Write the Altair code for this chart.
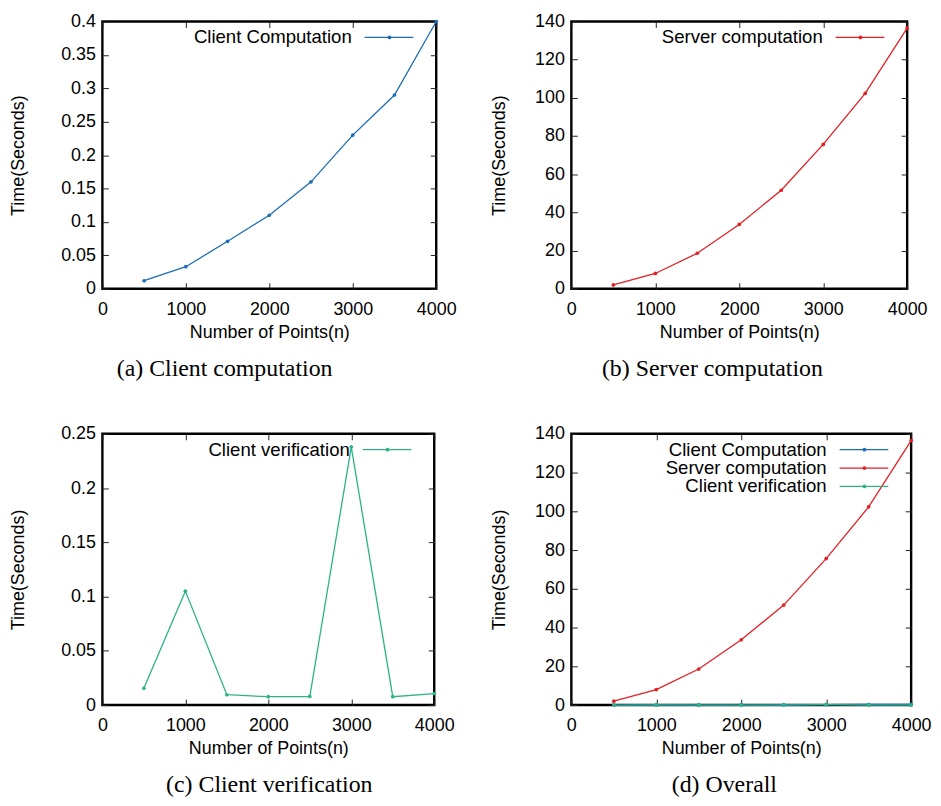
import altair as alt
import pandas as pd

# ---- data ----
n_points = [500, 1000, 1500, 2000, 2500, 3000, 3500, 4000]
client_computation = [0.012, 0.033, 0.071, 0.110, 0.160, 0.230, 0.290, 0.400]
server_computation = [2.0, 8.0, 18.6, 33.7, 51.6, 75.6, 102.3, 136.5]
client_verification = [0.0155, 0.105, 0.0095, 0.0077, 0.0079, 0.238, 0.0077, 0.0106]

x_ticks = [0, 1000, 2000, 3000, 4000]
y_ticks_a = [0, 0.05, 0.1, 0.15, 0.2, 0.25, 0.3, 0.35, 0.4]
y_ticks_b = [0, 20, 40, 60, 80, 100, 120, 140]
y_ticks_c = [0, 0.05, 0.1, 0.15, 0.2, 0.25]

series_names = ["Client Computation", "Server computation", "Client verification"]
series_colors = ["#1c6db5", "#e41f26", "#2db388"]
captions = ["(a) Client computation", "(b) Server computation",
            "(c) Client verification", "(d) Overall"]

SANS = "Liberation Sans"
SERIF = "Liberation Serif"


def make_panel(series, y_ticks, y_fmt, W, H, caption, cap_dx, y_title_pad):
    xenc = alt.X(
        "n:Q",
        scale=alt.Scale(domain=[0, 4000], nice=False),
        axis=alt.Axis(
            values=x_ticks, title="Number of Points(n)", format="d",
            grid=True, gridDash=[6, H - 12], gridColor="#222", gridWidth=1,
            gridOpacity=1, domain=False, ticks=False, labelFlush=False,
            labelPadding=12, titlePadding=5,
        ),
    )
    yenc = alt.Y(
        "t:Q",
        scale=alt.Scale(domain=[y_ticks[0], y_ticks[-1]], nice=False, zero=True),
        axis=alt.Axis(
            values=y_ticks, title="Time(Seconds)", format=y_fmt,
            grid=True, gridDash=[6, W - 12], gridColor="#222", gridWidth=1,
            gridOpacity=1, domain=False, ticks=False, labelFlush=False,
            labelPadding=7, titlePadding=y_title_pad,
        ),
    )
    layers = []
    for name, vals, col in series:
        df = pd.DataFrame({"n": n_points, "t": vals})
        base = alt.Chart(df).encode(x=xenc, y=yenc)
        layers.append(base.mark_line(color=col, strokeWidth=1.3))
        layers.append(base.mark_circle(color=col, size=14, opacity=1))
    for i, (name, vals, col) in enumerate(series):
        yy = 16 + 18.5 * i
        d = alt.Data(values=[{"label": name}])
        layers.append(
            alt.Chart(d).mark_text(align="right", baseline="middle", font=SANS,
                                   fontSize=18.7, color="black")
            .encode(x=alt.value(W - 85), y=alt.value(yy), text="label:N")
        )
        layers.append(
            alt.Chart(d).mark_rule(color=col, strokeWidth=1.3)
            .encode(x=alt.value(W - 72), x2=alt.value(W - 23), y=alt.value(yy))
        )
        layers.append(
            alt.Chart(d).mark_circle(color=col, size=14, opacity=1)
            .encode(x=alt.value(W - 47), y=alt.value(yy))
        )
    return alt.layer(*layers).properties(
        width=W, height=H,
        title=alt.TitleParams(
            text=caption, orient="bottom", anchor="middle", frame="group",
            font=SERIF, fontSize=24, fontWeight="normal", color="black",
            dx=cap_dx, offset=16,
        ),
    )


sA = [(series_names[0], client_computation, series_colors[0])]
sB = [(series_names[1], server_computation, series_colors[1])]
sC = [(series_names[2], client_verification, series_colors[2])]
sD = [(series_names[0], client_computation, series_colors[0]),
      (series_names[1], server_computation, series_colors[1]),
      (series_names[2], client_verification, series_colors[2])]

pa = make_panel(sA, y_ticks_a, "~g", 336, 269, captions[0], -45, 33)
pb = make_panel(sB, y_ticks_b, "d", 338, 269, captions[1], -27, 26)
pc = make_panel(sC, y_ticks_c, "~g", 334, 273, captions[2], 1, 33)
pd_ = make_panel(sD, y_ticks_b, "d", 342, 273, captions[3], -17, 26)

chart = (
    alt.ConcatChart(
        concat=[pa, pb, pc, pd_], columns=2,
        spacing=alt.RowColnumber(row=146, column=136), bounds="flush",
    )
    .properties(padding=0, background="white")
    .configure_view(stroke="black", strokeWidth=2.4)
    .configure_axis(
        labelFont=SANS, labelFontSize=18, labelColor="black",
        titleFont=SANS, titleFontSize=18, titleFontWeight="normal", titleColor="black",
    )
)

chart.save("out.html", embed_options={"renderer": "svg", "actions": False})
